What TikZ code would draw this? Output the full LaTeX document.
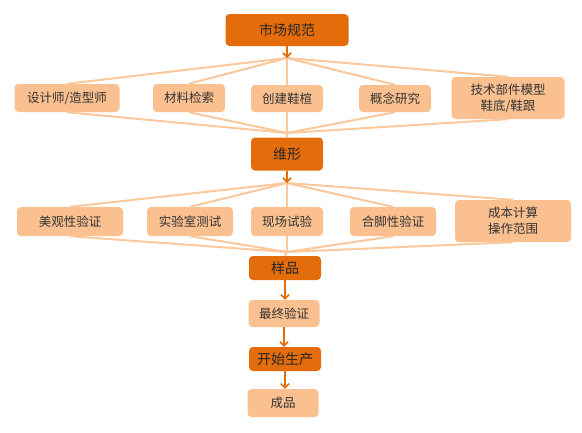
\documentclass[tikz,border=0pt]{standalone}
\usepackage{fontspec}
\setmainfont{Noto Sans CJK SC}
\usetikzlibrary{arrows.meta}
\definecolor{dk}{HTML}{E46C0A}
\definecolor{lt}{HTML}{FAC090}
\definecolor{ln}{HTML}{FBC89C}
\begin{document}
\begin{tikzpicture}[x=1pt,y=-1pt,
 dbox/.style={fill=dk, rounded corners=4pt, inner sep=0pt, font=\fontsize{14}{16}\selectfont, text=black!85},
 lbox/.style={fill=lt, rounded corners=4pt, inner sep=0pt, font=\fontsize{12.5}{16}\selectfont, text=black!80, align=center},
 conn/.style={draw=ln, line width=2pt},
 arr/.style={draw=dk, line width=1.6pt, -{Straight Barb[length=4pt,width=8pt]}}]
\useasboundingbox (0,0) rectangle (582,432);
% top
\node[dbox, minimum width=123pt, minimum height=32pt] (ms) at (287,30) {市场规范};
\coordinate (j1) at (287,58);
\coordinate (j2) at (287,133);
% row 1
\node[lbox, minimum width=105pt, minimum height=28pt] (a1) at (67,98) {设计师/造型师};
\node[lbox, minimum width=72pt, minimum height=28pt] (a2) at (189,98) {材料检索};
\node[lbox, minimum width=72pt, minimum height=27pt] (a3) at (287,98.5) {创建鞋楦};
\node[lbox, minimum width=72pt, minimum height=27pt] (a4) at (395,98.5) {概念研究};
\node[lbox, minimum width=113pt, minimum height=42pt] (a5) at (508,98) {技术部件模型\\鞋底/鞋跟};
% middle
\node[dbox, minimum width=72pt, minimum height=33pt] (wx) at (287,154) {维形};
\coordinate (j3) at (287,183);
\coordinate (j4) at (287,252);
% row 2
\node[lbox, minimum width=106pt, minimum height=29pt] (b1) at (70,221.5) {美观性验证};
\node[lbox, minimum width=86pt, minimum height=29pt] (b2) at (190,221.5) {实验室测试};
\node[lbox, minimum width=72pt, minimum height=29pt] (b3) at (287,221.5) {现场试验};
\node[lbox, minimum width=86pt, minimum height=29pt] (b4) at (393,221.5) {合脚性验证};
\node[lbox, minimum width=116pt, minimum height=42pt] (b5) at (513,221) {成本计算\\操作范围};
% bottom chain
\node[dbox, minimum width=72pt, minimum height=24pt] (yp) at (285,268) {样品};
\node[lbox, minimum width=71pt, minimum height=27pt] (zz) at (284,313.5) {最终验证};
\node[dbox, minimum width=72pt, minimum height=24pt] (ks) at (285,359) {开始生产};
\node[lbox, minimum width=71pt, minimum height=28pt] (cp) at (283,403) {成品};
% fan 1
\foreach \n in {a1,a2,a4,a5} {
  \draw[conn] (j1) -- (\n.north);
  \draw[conn] (\n.south) -- (j2);
}
\draw[conn] (j1) -- (a3.north);
\draw[conn] (a3.south) -- (j2);
\draw[conn] (j2) -- (wx.north);
% fan 2
\foreach \n in {b1,b2,b4,b5} {
  \draw[conn] (j3) -- (\n.north);
  \draw[conn] (\n.south) -- (j4);
}
\draw[conn] (j3) -- (b3.north);
\draw[conn] (b3.south) -- (j4);
\draw[conn] (j4) -- (yp.north);
% arrows
\draw[arr] (ms.south) -- (j1);
\draw[arr] (wx.south) -- (j3);
\draw[arr] (yp.south) -- (yp.south |- zz.north);
\draw[arr] (zz.south) -- (zz.south |- ks.north);
\draw[arr] (ks.south) -- (ks.south |- cp.north);
\end{tikzpicture}
\end{document}
